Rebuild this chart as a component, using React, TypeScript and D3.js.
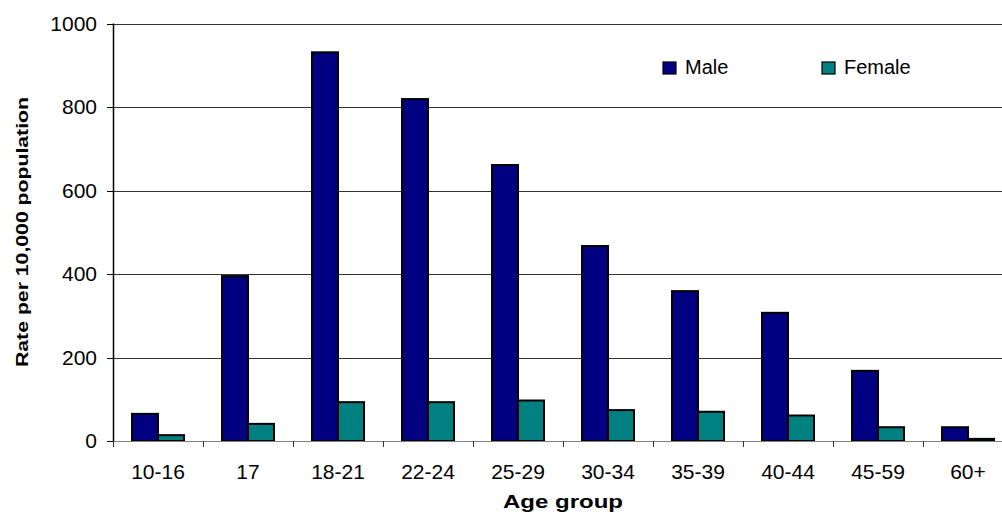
import React from "react";
import * as d3 from "d3";

const categories = ["10-16", "17", "18-21", "22-24", "25-29", "30-34", "35-39", "40-44", "45-59", "60+"];
const maleValues = [65, 395, 931, 819, 661, 467, 359, 307, 168, 33];
const femaleValues = [14, 41, 93, 93, 97, 74, 70, 61, 33, 5];
const seriesNames = ["Male", "Female"];
const seriesColors = ["#000080", "#008080"];
const yTicks = [0, 200, 400, 600, 800, 1000];

const W = 1002;
const H = 513;
const left = 113;
const right = 1013;
const top = 23.5;
const bottom = 441;
const font = "'Liberation Sans', Arial, sans-serif";

export default function App() {
  const x = d3.scaleBand<string>().domain(categories).range([left, right]).paddingInner(0).paddingOuter(0);
  const inner = d3.scaleBand<string>().domain(seriesNames).range([19, 71]).padding(0);
  const y = d3.scaleLinear().domain([0, 1000]).range([bottom, top]);
  const series = [maleValues, femaleValues];

  return (
    <svg width={W} height={H} style={{ position: "absolute", left: 0, top: 0, background: "#fff" }}>
      {/* gridlines */}
      {yTicks.filter((t) => t > 0).map((t) => (
        <line key={t} x1={left} x2={right} y1={Math.round(y(t)) + 0.5} y2={Math.round(y(t)) + 0.5} stroke="#333" strokeWidth={1} />
      ))}
      {/* bars */}
      {categories.map((c, i) => (
        <g key={c}>
          {series.map((vals, s) => (
            <rect
              key={s}
              x={(x(c) as number) + (inner(seriesNames[s]) as number)}
              y={y(vals[i])}
              width={inner.bandwidth()}
              height={bottom - y(vals[i])}
              fill={seriesColors[s]}
              stroke="#000"
              strokeWidth={2}
            />
          ))}
        </g>
      ))}
      {/* x axis */}
      <line x1={left} x2={right} y1={bottom + 0.5} y2={bottom + 0.5} stroke="#808080" strokeWidth={1} />
      {categories.map((c) => (
        <line key={"xt" + c} x1={Math.round(x(c) as number) + 0.5} x2={Math.round(x(c) as number) + 0.5} y1={bottom} y2={bottom + 6} stroke="#333" strokeWidth={1} />
      ))}
      {categories.map((c) => (
        <text key={"xl" + c} x={(x(c) as number) + x.bandwidth() / 2} y={479} textAnchor="middle" fontFamily={font} fontSize={21} fill="#000">
          {c}
        </text>
      ))}
      {/* y axis */}
      <line x1={left + 0.5} x2={left + 0.5} y1={top} y2={bottom} stroke="#000" strokeWidth={1.5} />
      {yTicks.map((t) => (
        <g key={"yt" + t}>
          <line x1={left - 6} x2={left} y1={Math.round(y(t)) + 0.5} y2={Math.round(y(t)) + 0.5} stroke="#000" strokeWidth={1} />
          <text x={97} y={y(t) + 7} textAnchor="end" fontFamily={font} fontSize={21} fill="#000">
            {t}
          </text>
        </g>
      ))}
      {/* axis titles */}
      <text x={563} y={508} textAnchor="middle" fontFamily={font} fontSize={18} fontWeight="bold" textLength={120} lengthAdjust="spacingAndGlyphs">
        Age group
      </text>
      <text
        transform="translate(28,232) rotate(-90)"
        textAnchor="middle"
        fontFamily={font}
        fontSize={17}
        fontWeight="bold"
        textLength={270}
        lengthAdjust="spacingAndGlyphs"
      >
        Rate per 10,000 population
      </text>
      {/* legend */}
      {seriesNames.map((n, s) => (
        <g key={"lg" + n} transform={`translate(${s === 0 ? 663 : 822},62)`}>
          <rect x={0} y={0} width={13} height={12} fill={seriesColors[s]} stroke="#000" strokeWidth={1.2} />
          <text x={22} y={12} fontFamily={font} fontSize={20} fill="#000">
            {n}
          </text>
        </g>
      ))}
    </svg>
  );
}
